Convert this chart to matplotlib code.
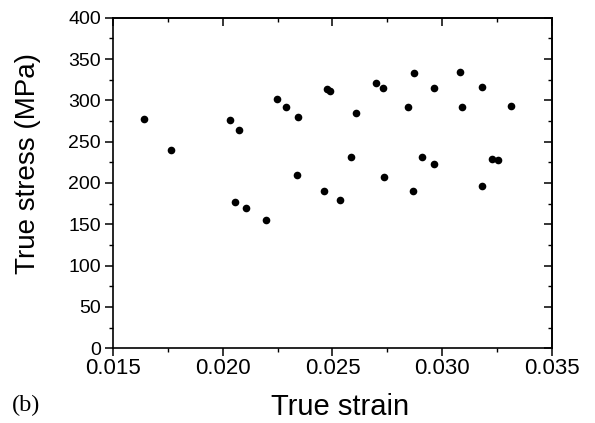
import matplotlib
matplotlib.use("Agg")
import matplotlib.pyplot as plt
from matplotlib.ticker import MultipleLocator

strain = [0.01641, 0.01763, 0.02031, 0.02073, 0.02245, 0.02289, 0.02341, 0.02476,
          0.02490, 0.02339, 0.02461, 0.02057, 0.02104, 0.02195, 0.02873, 0.03082,
          0.02697, 0.02729, 0.02962, 0.03181, 0.02606, 0.02843, 0.03090, 0.03313,
          0.02584, 0.02910, 0.02964, 0.03229, 0.03254, 0.02736, 0.02866, 0.03183,
          0.02536]
stress = [277, 240, 276, 264.5, 302, 291.6, 279.5, 313.4,
          311.3, 209.3, 190, 177.4, 169.8, 155.6, 333.5, 334.7,
          321.4, 315, 315.3, 316.1, 285, 291.6, 291.6, 293.2,
          231.5, 231.5, 223.4, 229.4, 227.5, 207.3, 190.3, 196,
          179]

xticks = [0.015, 0.020, 0.025, 0.030, 0.035]
xticklabels = ["0.015", "0.020", "0.025", "0.030", "0.035"]
yticks = [0, 50, 100, 150, 200, 250, 300, 350, 400]

plt.rcParams['font.family'] = ['Liberation Sans', 'DejaVu Sans']

fig = plt.figure(figsize=(5.95, 4.23), dpi=100)
ax = fig.add_axes([0.1904, 0.1766, 0.9272 - 0.1904, 0.9582 - 0.1766])

ax.plot(strain, stress, 'o', color='black', ms=5.5, mew=0)

ax.set_xlim(0.015, 0.035)
ax.set_ylim(0, 400)
ax.set_xticks(xticks)
ax.set_xticklabels(xticklabels)
ax.set_yticks(yticks)
ax.xaxis.set_minor_locator(MultipleLocator(0.0025))
ax.yaxis.set_minor_locator(MultipleLocator(25))

for s in ax.spines.values():
    s.set_linewidth(1.2)

ax.tick_params(which='major', direction='out', length=5.5, width=1.1)
ax.tick_params(which='minor', direction='out', length=3, width=1.0)
ax.tick_params(axis='x', which='major', labelsize=16, pad=1.5)
ax.tick_params(axis='y', which='major', labelsize=14, pad=3.5)

secx = ax.secondary_xaxis('top')
secx.set_xticks(xticks)
secx.xaxis.set_minor_locator(MultipleLocator(0.0025))
secx.tick_params(which='major', direction='in', length=5.5, width=1.1, labeltop=False)
secx.tick_params(which='minor', direction='in', length=3, width=1.0)
secx.spines['top'].set_linewidth(1.2)

secy = ax.secondary_yaxis('right')
secy.set_yticks(yticks)
secy.yaxis.set_minor_locator(MultipleLocator(25))
secy.tick_params(which='major', direction='in', length=5.5, width=1.1, labelright=False)
secy.tick_params(which='minor', direction='in', length=3, width=1.0)
secy.spines['right'].set_linewidth(1.2)

fig.text(340 / 595, (423 - 415) / 423, "True strain", fontsize=21,
         ha='center', va='baseline')
fig.text(28 / 595, (423 - 163) / 423, "True stress (MPa)", fontsize=20,
         rotation=90, ha='center', va='center')

fig.text(0.02, 0.0426, "(b)", fontsize=17.5, family=['Liberation Serif'],
         va='center', ha='left')

fig.savefig("out.png", dpi=100)
